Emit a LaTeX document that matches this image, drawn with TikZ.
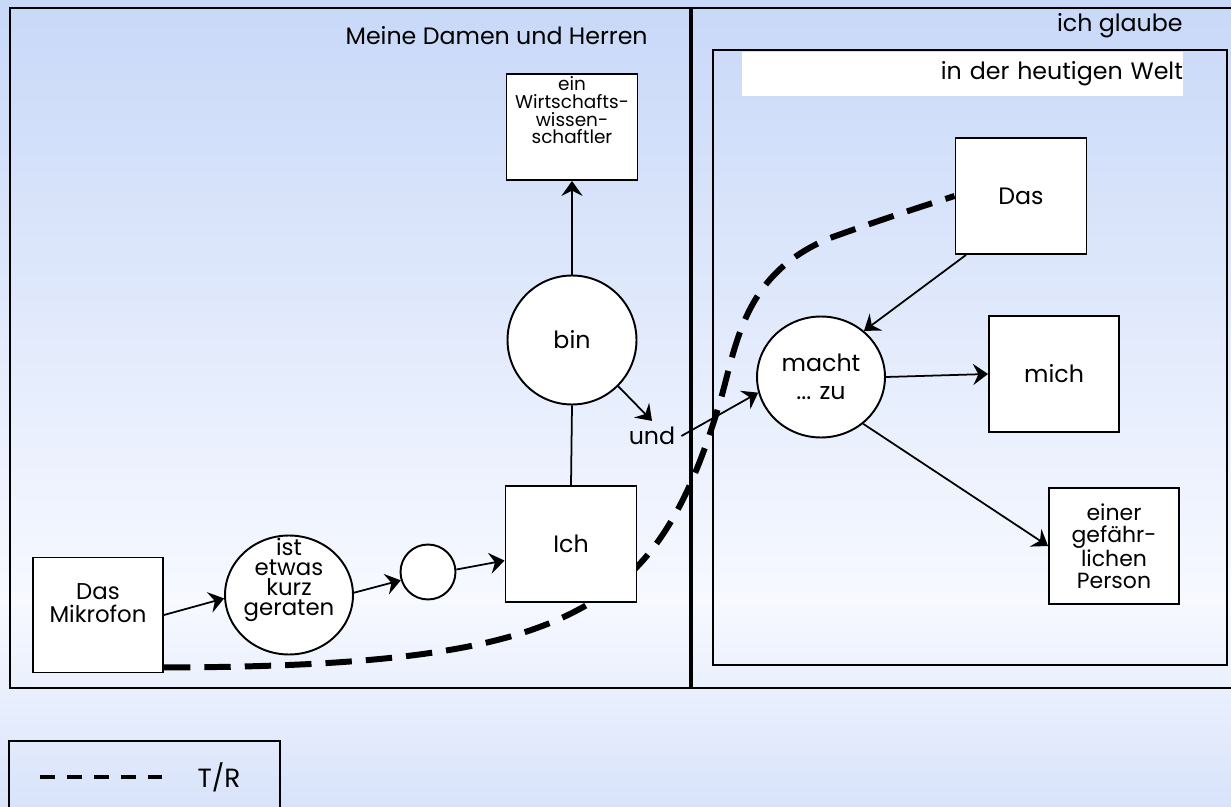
\documentclass[tikz,border=0pt]{standalone}
\usepackage{fontspec}
\setmainfont{Poppins}
\usetikzlibrary{arrows.meta,shapes.geometric}
\pgfdeclarelayer{bg}
\pgfdeclarelayer{mid}
\pgfsetlayers{bg,mid,main}
\definecolor{bgtop}{RGB}{200,216,248}
\definecolor{bgmid}{RGB}{247,249,255}
\definecolor{bgbot}{RGB}{216,227,250}

\begin{document}
\begin{tikzpicture}[x=0.02cm,y=-0.02cm,>={Stealth[length=8.5pt,width=12pt,inset=3pt]},
  every node/.style={font=\fontsize{13.5}{15}\selectfont},
  box/.style={draw,fill=white,line width=1.1pt,align=center},
  circ/.style={draw,fill=white,circle,line width=1.1pt,inner sep=0pt},
  ell/.style={draw,fill=white,ellipse,line width=1.1pt,inner sep=0pt,align=center},
  arr/.style={->,line width=1pt},
  frame/.style={line width=1.2pt},
  trline/.style={line width=3.4pt,dash pattern=on 15pt off 8pt}]
\useasboundingbox (0,0) rectangle (1231,807);
\begin{pgfonlayer}{bg}
\shade[top color=bgtop,bottom color=bgmid] (0,0) rectangle (1231,600);
\shade[top color=bgmid,bottom color=bgbot] (0,600) rectangle (1231,807);
\draw[frame] (10,8) rectangle (690,688);
\draw[frame] (1231,8) -- (692,8) -- (692,688) -- (1231,688);
\draw[frame] (713,50) rectangle (1227,665);
\draw[frame] (9,807) |- (280,741) -- (280,807);
\end{pgfonlayer}

\node[anchor=east,inner sep=0pt] (herren) at (648,36) {Meine Damen und Herren};
\node[anchor=east,inner sep=0pt] (glaube) at (1183,26) {ich glaube};
\node[fill=white,minimum width=8.82cm,minimum height=0.88cm,text width=8.82cm,inner sep=0pt,align=right] (welt) at (962.5,74) {in der heutigen Welt};

\node[box,minimum width=2.6cm,minimum height=2.3cm,font=\fontsize{13}{13}\selectfont] (mikro) at (98,615) {Das\\Mikrofon\\[1pt]};
\node[ell,minimum width=2.56cm,minimum height=2.38cm,label={[font=\fontsize{13}{11.5}\selectfont,align=center,yshift=0.3cm]center:{ist\\etwas\\kurz\\geraten}}] (kurz) at (289,595) {};
\node[circ,minimum size=1.1cm] (leer) at (428,572) {};
\node[box,minimum width=2.62cm,minimum height=2.32cm] (ich) at (571,544) {Ich};
\node[circ,minimum size=2.58cm] (bin) at (572,340) {bin};
\node[box,minimum width=2.62cm,minimum height=2.12cm,label={[font=\fontsize{10.5}{10}\selectfont,align=center,anchor=north,inner sep=2pt]north:{ein\\Wirtschafts-\\wissen-\\schaftler}}] (wiss) at (572,127) {};
\node (und) at (652,436) {und};
\node[ell,minimum width=2.56cm,minimum height=2.42cm,font=\fontsize{13.5}{16}\selectfont] (macht) at (821,377) {macht\\... zu};
\node[box,minimum width=2.62cm,minimum height=2.32cm] (das) at (1021,196) {Das};
\node[box,minimum width=2.6cm,minimum height=2.32cm] (mich) at (1054,374) {mich};
\node[box,minimum width=2.6cm,minimum height=2.32cm,font=\fontsize{12.5}{12.5}\selectfont] (person) at (1114,546) {einer\\gefähr-\\lichen\\Person};

\draw[arr] (mikro.east) -- (kurz.183);
\draw[arr] (kurz.2) -- (leer.197);
\draw[arr] (leer.5) -- (ich.194);
\draw[line width=1pt] (ich.north) -- (bin.south);
\draw[arr] (bin.north) -- (wiss.south);
\draw[arr] (bin.315) -- (und.north);
\draw[arr] (und.east) -- (macht.194);
\draw[arr] (das.227) -- (macht.47);
\draw[arr] (macht.east) -- (mich.west);
\draw[arr] (macht.-48) -- (person.west);

\begin{pgfonlayer}{mid}
\draw[trline] ([yshift=0.12cm]mikro.south east) .. controls (440,667) and (540,640) .. (610,590)
  .. controls (670,548) and (700,470) .. (722,395) .. controls (738,335) and (748,272) .. (830,238)
  .. controls (880,220) and (920,207) .. (das.west);
\end{pgfonlayer}

\coordinate (lgA) at (40,777);
\coordinate (lgB) at (167,777);
\draw[line width=2.8pt,dash pattern=on 8.5pt off 6.8pt] (lgA) -- (lgB);
\node[font=\fontsize{15}{17}\selectfont] (tr) at (219,777) {T/R};
\end{tikzpicture}
\end{document}
